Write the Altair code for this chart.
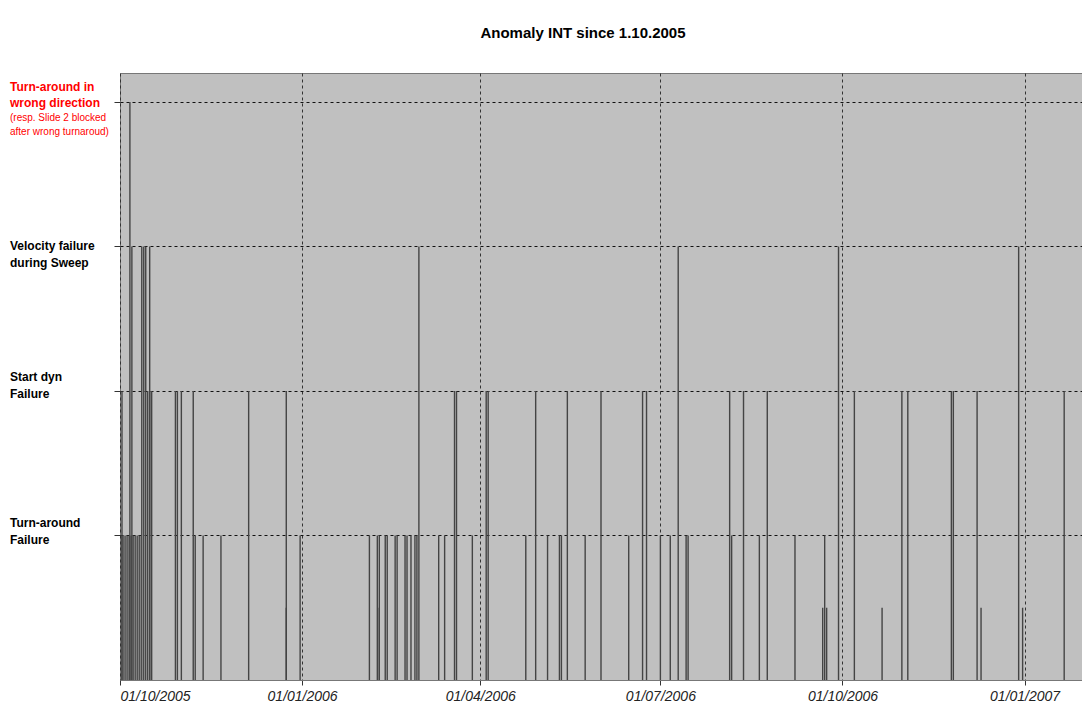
import pandas as pd
import altair as alt

# event days counted from 01/10/2005, grouped by anomaly level
start = pd.Timestamp("2005-10-01")
days_lvl1 = [1, 2, 3, 4, 5, 6, 7, 8, 9, 10, 38, 42, 51, 91, 126, 130, 131, 134, 135,
             139, 140, 144, 145, 147, 149, 150, 161, 164, 178, 205, 216, 222, 223,
             235, 257, 273, 278, 286, 287, 309, 323, 341, 356]
days_half = [84, 131, 355, 357, 385, 435, 456]
days_lvl2 = [1, 14, 15, 16, 28, 29, 31, 37, 65, 84, 169, 170, 185, 186, 210, 226,
             243, 264, 266, 308, 315, 327, 371, 395, 398, 420, 421, 433, 477]
days_lvl3 = [6, 11, 12, 13, 15, 151, 282, 363, 454]
days_lvl4 = [5]

rows = []
for lvl, days in [(1, days_lvl1), (0.5, days_half), (2, days_lvl2), (3, days_lvl3), (4, days_lvl4)]:
    for d in days:
        rows.append({"date": start + pd.Timedelta(days=d), "level": lvl})
events = pd.DataFrame(rows)

tick_dates = ["2005-10-01", "2006-01-01", "2006-04-01", "2006-07-01", "2006-10-01", "2007-01-01"]
x_domain = ["2005-10-01", "2007-01-30"]

# y-axis labels: text, level, pixel offset, colour, bold or not, size
label_text = ["Turn-around in", "wrong direction", "(resp. Slide 2 blocked", "after wrong turnaroud)",
              "Velocity failure", "during Sweep", "Start dyn", "Failure", "Turn-around", "Failure"]
label_level = [4, 4, 4, 4, 3, 3, 2, 2, 1, 1]
label_off = [-15, 1, 16, 30, 0, 17, -14, 3, -12, 5]
label_color = ["red"] * 4 + ["black"] * 6
label_bold = [True, True, False, False] + [True] * 6
label_size = [12, 12, 10, 10] + [12] * 6
labels = pd.DataFrame({"text": label_text, "level": label_level, "off": label_off,
                       "color": label_color, "bold": label_bold, "size": label_size})

Y_TOP = 4.2
PLOT_H = 607

x = alt.X("date:T", title=None,
          scale=alt.Scale(domain=x_domain),
          axis=alt.Axis(values=tick_dates, format="%d/%m/%Y", labelFontStyle="italic",
                        labelFontSize=14, labelColor="#222", grid=True, gridDash=[3, 3],
                        gridColor="#333", gridOpacity=1, domainColor="#777",
                        tickColor="#333", labelPadding=4))
y_scale = alt.Scale(domain=[0, Y_TOP], nice=False)

bars = alt.Chart(events).mark_rule(color="#444", strokeWidth=1.4).encode(
    x=x,
    y=alt.Y("level:Q", title=None, scale=y_scale,
            axis=alt.Axis(values=[1, 2, 3, 4], labels=False, grid=True, gridDash=[3, 3],
                          gridColor="#111", gridOpacity=1, domain=False, tickSize=6,
                          tickColor="#333")),
    y2=alt.datum(0),
)


def label_layer(bold):
    return alt.Chart(labels[labels["bold"] == bold]).transform_calculate(
        ypos=f"datum.level - datum.off * {Y_TOP} / {PLOT_H}"
    ).mark_text(
        align="left", baseline="middle", font="Liberation Sans",
        fontWeight="bold" if bold else "normal").encode(
        x=alt.value(-110),
        y=alt.Y("ypos:Q", scale=y_scale),
        text="text:N",
        color=alt.Color("color:N", scale=None),
        size=alt.Size("size:Q", scale=None),
    )


chart = (bars + label_layer(True) + label_layer(False)).properties(
    width=962, height=PLOT_H,
    title=alt.Title("Anomaly INT since 1.10.2005", fontSize=15, font="Liberation Sans",
                    fontWeight="bold", anchor="middle", dx=-18, offset=32),
    autosize=alt.AutoSizeParams(type="none"),
    padding={"left": 112, "top": 65, "right": 0, "bottom": 22},
    background="white",
).configure_view(fill="#c0c0c0", stroke="#777").configure_axis(labelFont="Liberation Sans")

chart.save("out.html", embed_options={"renderer": "svg", "actions": False})
